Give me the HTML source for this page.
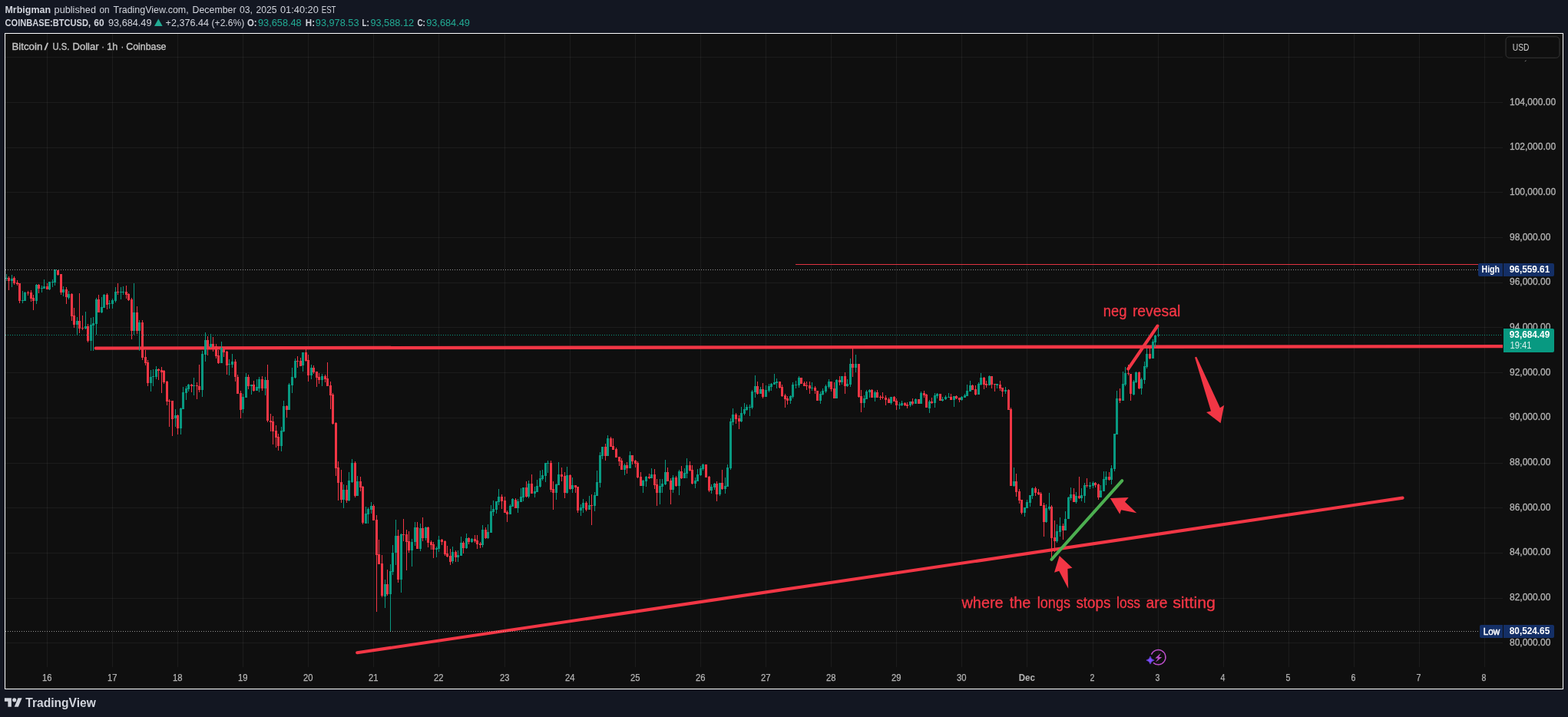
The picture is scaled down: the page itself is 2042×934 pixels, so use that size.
<!DOCTYPE html>
<html lang="en"><head><meta charset="utf-8"><title>BTCUSD chart</title>
<style>html,body{margin:0;padding:0;background:#131722;overflow:hidden}svg{display:block}text{white-space:pre}</style>
</head><body>
<svg width="2042" height="934" viewBox="0 0 2042 934" font-family='"Liberation Sans", sans-serif'>
<rect width="2042" height="934" fill="#131722"/>
<rect x="6" y="43" width="2030" height="855" fill="#ffffff"/>
<rect x="7" y="44" width="2028" height="853" fill="#0f0f0f"/>
<g fill="#f2f2f2" fill-opacity="0.06" shape-rendering="crispEdges">
<rect x="61" y="44" width="1" height="825"/>
<rect x="146" y="44" width="1" height="825"/>
<rect x="231" y="44" width="1" height="825"/>
<rect x="316" y="44" width="1" height="825"/>
<rect x="401" y="44" width="1" height="825"/>
<rect x="486" y="44" width="1" height="825"/>
<rect x="571" y="44" width="1" height="825"/>
<rect x="657" y="44" width="1" height="825"/>
<rect x="742" y="44" width="1" height="825"/>
<rect x="827" y="44" width="1" height="825"/>
<rect x="912" y="44" width="1" height="825"/>
<rect x="997" y="44" width="1" height="825"/>
<rect x="1082" y="44" width="1" height="825"/>
<rect x="1167" y="44" width="1" height="825"/>
<rect x="1252" y="44" width="1" height="825"/>
<rect x="1337" y="44" width="1" height="825"/>
<rect x="1423" y="44" width="1" height="825"/>
<rect x="1508" y="44" width="1" height="825"/>
<rect x="1593" y="44" width="1" height="825"/>
<rect x="1678" y="44" width="1" height="825"/>
<rect x="1763" y="44" width="1" height="825"/>
<rect x="1848" y="44" width="1" height="825"/>
<rect x="1933" y="44" width="1" height="825"/>
<rect x="7" y="74" width="1950" height="1"/>
<rect x="7" y="133" width="1950" height="1"/>
<rect x="7" y="192" width="1950" height="1"/>
<rect x="7" y="250" width="1950" height="1"/>
<rect x="7" y="309" width="1950" height="1"/>
<rect x="7" y="368" width="1950" height="1"/>
<rect x="7" y="426" width="1950" height="1"/>
<rect x="7" y="485" width="1950" height="1"/>
<rect x="7" y="544" width="1950" height="1"/>
<rect x="7" y="603" width="1950" height="1"/>
<rect x="7" y="661" width="1950" height="1"/>
<rect x="7" y="720" width="1950" height="1"/>
<rect x="7" y="779" width="1950" height="1"/>
<rect x="7" y="837" width="1950" height="1"/>
</g>
<line x1="124.8" y1="453.6" x2="1957" y2="451.1" stroke="#f23645" stroke-width="4.4" stroke-linecap="round"/>
<line x1="465.2" y1="850.3" x2="1826.6" y2="648.6" stroke="#f23645" stroke-width="4.1" stroke-linecap="round"/>
<!--CANDLES-->
<g id="candles" shape-rendering="crispEdges">
<path fill="#f23645" d="M11 360h1v18h-1zM10 362h3v4h-3zM18 360h1v11h-1zM17 362h3v7h-3zM22 365h1v7h-1zM21 368h3v2h-3zM25 369h1v26h-1zM24 369h3v23h-3zM36 379h1v6h-1zM35 381h3v1h-3zM40 378h1v15h-1zM39 381h3v8h-3zM43 384h1v20h-1zM42 388h3v4h-3zM50 370h1v12h-1zM49 371h3v5h-3zM61 369h1v8h-1zM60 373h3v4h-3zM75 352h1v7h-1zM74 352h3v6h-3zM79 357h1v27h-1zM78 357h3v24h-3zM86 374h1v22h-1zM85 377h3v10h-3zM93 382h1v36h-1zM92 383h3v29h-3zM96 401h1v26h-1zM95 411h3v12h-3zM103 382h1v52h-1zM102 418h3v10h-3zM107 411h1v19h-1zM106 427h3v1h-3zM114 422h1v24h-1zM113 425h3v19h-3zM128 384h1v23h-1zM127 390h3v17h-3zM139 382h1v21h-1zM138 384h3v13h-3zM153 369h1v15h-1zM152 380h3v1h-3zM164 372h1v17h-1zM163 380h3v4h-3zM167 382h1v10h-1zM166 383h3v8h-3zM171 388h1v54h-1zM170 390h3v41h-3zM178 399h1v36h-1zM177 407h3v24h-3zM185 417h1v52h-1zM184 420h3v46h-3zM189 456h1v20h-1zM188 465h3v8h-3zM192 469h1v34h-1zM191 472h3v27h-3zM206 480h1v15h-1zM205 481h3v2h-3zM210 478h1v34h-1zM209 482h3v3h-3zM213 482h1v18h-1zM212 483h3v15h-3zM217 496h1v32h-1zM216 497h3v26h-3zM220 520h1v36h-1zM219 522h3v1h-3zM224 522h1v46h-1zM223 522h3v24h-3zM231 540h1v26h-1zM230 541h3v17h-3zM249 500h1v11h-1zM248 501h3v2h-3zM256 498h1v22h-1zM255 502h3v1h-3zM259 475h1v36h-1zM258 503h3v5h-3zM270 438h1v25h-1zM269 443h3v9h-3zM277 439h1v19h-1zM276 448h3v4h-3zM281 448h1v19h-1zM280 451h3v13h-3zM284 456h1v18h-1zM283 463h3v10h-3zM291 453h1v12h-1zM290 453h3v6h-3zM295 457h1v31h-1zM294 458h3v18h-3zM306 468h1v29h-1zM305 471h3v20h-3zM309 488h1v25h-1zM308 491h3v22h-3zM313 509h1v36h-1zM312 512h3v22h-3zM323 488h1v19h-1zM322 491h3v12h-3zM330 496h1v14h-1zM329 501h3v8h-3zM341 490h1v19h-1zM340 494h3v12h-3zM348 475h1v75h-1zM347 495h3v53h-3zM352 539h1v23h-1zM351 548h3v2h-3zM355 542h1v37h-1zM354 549h3v13h-3zM359 554h1v29h-1zM358 561h3v9h-3zM362 565h1v22h-1zM361 569h3v12h-3zM373 528h1v16h-1zM372 529h3v5h-3zM387 464h1v15h-1zM386 470h3v1h-3zM391 466h1v11h-1zM390 470h3v7h-3zM398 455h1v16h-1zM397 459h3v11h-3zM401 462h1v35h-1zM400 469h3v20h-3zM408 476h1v11h-1zM407 479h3v6h-3zM412 484h1v20h-1zM411 484h3v8h-3zM415 486h1v14h-1zM414 491h3v4h-3zM423 488h1v10h-1zM422 490h3v4h-3zM426 472h1v31h-1zM425 493h3v10h-3zM430 497h1v36h-1zM429 502h3v13h-3zM433 512h1v41h-1zM432 514h3v38h-3zM437 550h1v70h-1zM436 551h3v59h-3zM440 601h1v51h-1zM439 609h3v20h-3zM444 612h1v43h-1zM443 628h3v23h-3zM451 632h1v23h-1zM450 638h3v14h-3zM462 601h1v47h-1zM461 603h3v43h-3zM469 621h1v19h-1zM468 627h3v8h-3zM472 633h1v50h-1zM471 634h3v47h-3zM486 657h1v21h-1zM485 659h3v19h-3zM490 671h1v126h-1zM489 677h3v46h-3zM493 703h1v32h-1zM492 722h3v13h-3zM497 723h1v55h-1zM496 734h3v42h-3zM504 742h1v34h-1zM503 761h3v13h-3zM518 690h1v69h-1zM517 698h3v57h-3zM525 676h1v29h-1zM524 696h3v1h-3zM529 690h1v53h-1zM528 696h3v10h-3zM532 692h1v28h-1zM531 705h3v12h-3zM543 680h1v35h-1zM542 687h3v28h-3zM550 674h1v31h-1zM549 688h3v13h-3zM557 686h1v27h-1zM556 687h3v20h-3zM561 704h1v12h-1zM560 706h3v4h-3zM564 706h1v21h-1zM563 709h3v7h-3zM575 702h1v8h-1zM574 703h3v3h-3zM579 704h1v20h-1zM578 705h3v17h-3zM582 711h1v15h-1zM581 721h3v4h-3zM586 715h1v21h-1zM585 724h3v8h-3zM593 717h1v15h-1zM592 719h3v7h-3zM603 705h1v16h-1zM602 707h3v7h-3zM610 700h1v9h-1zM609 701h3v5h-3zM618 697h1v10h-1zM617 702h3v3h-3zM621 697h1v18h-1zM620 704h3v5h-3zM625 706h1v8h-1zM624 708h3v2h-3zM632 687h1v15h-1zM631 690h3v11h-3zM653 644h1v19h-1zM652 647h3v6h-3zM657 647h1v21h-1zM656 652h3v16h-3zM660 665h1v15h-1zM659 667h3v3h-3zM671 649h1v13h-1zM670 651h3v11h-3zM685 627h1v21h-1zM684 635h3v12h-3zM692 618h1v25h-1zM691 630h3v13h-3zM717 600h1v41h-1zM716 603h3v35h-3zM720 627h1v37h-1zM719 637h3v5h-3zM731 609h1v18h-1zM730 618h3v3h-3zM735 615h1v34h-1zM734 620h3v22h-3zM742 618h1v20h-1zM741 619h3v18h-3zM749 632h1v10h-1zM748 632h3v3h-3zM752 634h1v34h-1zM751 634h3v31h-3zM763 653h1v13h-1zM762 655h3v9h-3zM770 644h1v40h-1zM769 658h3v1h-3zM788 578h1v22h-1zM787 582h3v12h-3zM795 569h1v13h-1zM794 571h3v11h-3zM798 571h1v15h-1zM797 581h3v5h-3zM802 583h1v13h-1zM801 585h3v11h-3zM806 595h1v12h-1zM805 595h3v6h-3zM809 597h1v15h-1zM808 600h3v12h-3zM816 602h1v15h-1zM815 606h3v4h-3zM823 593h1v12h-1zM822 593h3v8h-3zM827 599h1v10h-1zM826 600h3v4h-3zM830 601h1v22h-1zM829 603h3v19h-3zM834 615h1v18h-1zM833 621h3v12h-3zM845 617h1v7h-1zM844 621h3v2h-3zM852 611h1v26h-1zM851 618h3v14h-3zM855 624h1v35h-1zM854 631h3v11h-3zM869 609h1v18h-1zM868 615h3v12h-3zM873 623h1v34h-1zM872 626h3v12h-3zM880 620h1v14h-1zM879 622h3v11h-3zM887 607h1v17h-1zM886 614h3v9h-3zM898 601h1v13h-1zM897 606h3v7h-3zM901 606h1v25h-1zM900 612h3v18h-3zM918 605h3v17h-3zM923 620h1v21h-1zM922 621h3v18h-3zM933 627h1v26h-1zM932 630h3v14h-3zM940 612h1v26h-1zM939 629h3v8h-3zM958 538h1v14h-1zM957 540h3v6h-3zM962 541h1v18h-1zM961 545h3v4h-3zM986 497h1v17h-1zM985 503h3v10h-3zM993 499h1v20h-1zM992 507h3v10h-3zM1015 497h1v9h-1zM1014 497h3v8h-3zM1018 501h1v16h-1zM1017 504h3v12h-3zM1022 513h1v18h-1zM1021 515h3v5h-3zM1025 516h1v11h-1zM1024 519h3v3h-3zM1042 492h3v8h-3zM1047 497h1v6h-1zM1046 499h3v4h-3zM1050 497h1v11h-1zM1049 502h3v1h-3zM1054 497h1v16h-1zM1053 502h3v4h-3zM1061 503h1v10h-1zM1060 505h3v4h-3zM1063 509h3v13h-3zM1082 497h1v13h-1zM1081 497h3v10h-3zM1086 498h1v21h-1zM1085 506h3v13h-3zM1093 490h1v12h-1zM1092 495h3v3h-3zM1100 485h1v28h-1zM1099 490h3v13h-3zM1110 454h1v37h-1zM1109 474h3v5h-3zM1118 474h1v44h-1zM1117 474h3v43h-3zM1121 508h1v29h-1zM1120 516h3v9h-3zM1135 507h1v11h-1zM1134 508h3v10h-3zM1142 508h1v10h-1zM1141 511h3v7h-3zM1146 515h1v6h-1zM1145 517h3v1h-3zM1149 511h1v9h-1zM1148 517h3v1h-3zM1153 515h1v13h-1zM1152 518h3v3h-3zM1157 518h1v7h-1zM1156 520h3v5h-3zM1164 516h1v7h-1zM1163 517h3v6h-3zM1167 519h1v15h-1zM1166 522h3v6h-3zM1178 524h1v5h-1zM1177 525h3v3h-3zM1181 524h1v8h-1zM1180 527h3v2h-3zM1188 519h1v9h-1zM1187 523h3v3h-3zM1195 520h3v6h-3zM1203 509h1v9h-1zM1202 512h3v3h-3zM1206 513h1v18h-1zM1205 514h3v17h-3zM1213 518h1v8h-1zM1212 523h3v2h-3zM1223 513h3v9h-3zM1238 513h1v8h-1zM1237 517h3v4h-3zM1245 515h1v5h-1zM1244 516h3v3h-3zM1249 518h1v6h-1zM1248 518h3v3h-3zM1266 501h1v7h-1zM1265 502h3v6h-3zM1270 502h1v13h-1zM1269 507h3v7h-3zM1281 491h1v16h-1zM1280 492h3v9h-3zM1284 496h1v9h-1zM1283 500h3v2h-3zM1291 490h1v16h-1zM1290 490h3v11h-3zM1295 500h1v10h-1zM1294 500h3v1h-3zM1302 496h1v13h-1zM1301 501h3v5h-3zM1305 505h1v12h-1zM1304 505h3v5h-3zM1313 507h1v27h-1zM1312 508h3v26h-3zM1316 531h1v102h-1zM1315 533h3v100h-3zM1323 617h1v30h-1zM1322 627h3v14h-3zM1327 637h1v19h-1zM1326 640h3v12h-3zM1330 651h1v19h-1zM1329 651h3v17h-3zM1348 634h1v12h-1zM1347 636h3v6h-3zM1352 637h1v8h-1zM1351 641h3v3h-3zM1355 641h1v18h-1zM1354 643h3v16h-3zM1359 655h1v44h-1zM1358 658h3v22h-3zM1369 658h1v68h-1zM1368 660h3v41h-3zM1373 678h1v41h-1zM1372 700h3v5h-3zM1384 682h1v21h-1zM1383 685h3v6h-3zM1398 636h1v18h-1zM1397 644h3v10h-3zM1405 621h1v29h-1zM1404 646h3v3h-3zM1415 623h1v12h-1zM1414 632h3v1h-3zM1426 628h1v7h-1zM1425 629h3v3h-3zM1430 630h1v21h-1zM1429 631h3v17h-3zM1444 615h1v11h-1zM1443 621h3v4h-3zM1458 506h1v19h-1zM1457 519h3v3h-3zM1469 475h1v14h-1zM1468 486h3v1h-3zM1472 487h1v35h-1zM1471 487h3v26h-3zM1483 484h1v23h-1zM1482 485h3v21h-3zM1497 453h1v15h-1zM1496 461h3v6h-3z"/>
<path fill="#089981" d="M8 357h1v9h-1zM7 362h3v1h-3zM15 358h1v16h-1zM14 363h3v3h-3zM29 379h1v16h-1zM28 391h3v1h-3zM32 380h1v12h-1zM31 381h3v11h-3zM47 370h1v26h-1zM46 371h3v21h-3zM54 372h1v9h-1zM53 375h3v1h-3zM57 364h1v12h-1zM56 373h3v3h-3zM64 367h1v11h-1zM63 367h3v10h-3zM68 364h1v10h-1zM67 367h3v1h-3zM71 351h1v21h-1zM70 351h3v17h-3zM82 373h1v13h-1zM81 377h3v4h-3zM89 379h1v11h-1zM88 383h3v5h-3zM100 413h1v24h-1zM99 418h3v5h-3zM111 406h1v23h-1zM110 425h3v3h-3zM118 414h1v43h-1zM117 423h3v21h-3zM121 413h1v44h-1zM120 421h3v3h-3zM125 388h1v48h-1zM124 390h3v32h-3zM132 387h1v21h-1zM131 400h3v7h-3zM135 383h1v18h-1zM134 384h3v17h-3zM142 391h1v11h-1zM141 395h3v1h-3zM146 389h1v13h-1zM145 391h3v5h-3zM150 374h1v20h-1zM149 380h3v12h-3zM157 374h1v16h-1zM156 380h3v1h-3zM160 373h1v11h-1zM159 380h3v1h-3zM174 369h1v67h-1zM173 407h3v24h-3zM181 417h1v40h-1zM180 420h3v11h-3zM196 482h1v28h-1zM195 491h3v8h-3zM199 481h1v22h-1zM198 490h3v1h-3zM203 477h1v17h-1zM202 481h3v10h-3zM228 533h1v23h-1zM227 541h3v4h-3zM235 531h1v35h-1zM234 532h3v26h-3zM238 504h1v29h-1zM237 511h3v22h-3zM242 503h1v18h-1zM241 506h3v6h-3zM245 500h1v10h-1zM244 501h3v6h-3zM252 492h1v23h-1zM251 502h3v1h-3zM263 457h1v60h-1zM262 461h3v47h-3zM267 433h1v38h-1zM266 443h3v19h-3zM274 435h1v18h-1zM273 448h3v4h-3zM288 445h1v28h-1zM287 453h3v20h-3zM298 468h1v21h-1zM297 474h3v1h-3zM302 461h1v18h-1zM301 471h3v4h-3zM316 513h1v25h-1zM315 517h3v16h-3zM320 486h1v32h-1zM319 491h3v27h-3zM327 501h1v13h-1zM326 501h3v2h-3zM334 494h1v15h-1zM333 504h3v5h-3zM337 491h1v20h-1zM336 494h3v12h-3zM345 491h1v24h-1zM344 495h3v11h-3zM366 556h1v32h-1zM365 561h3v20h-3zM369 522h1v41h-1zM368 529h3v33h-3zM376 499h1v35h-1zM375 501h3v33h-3zM380 479h1v33h-1zM379 491h3v11h-3zM384 467h1v26h-1zM383 470h3v22h-3zM394 459h1v25h-1zM393 459h3v17h-3zM405 475h1v19h-1zM404 479h3v10h-3zM419 487h1v16h-1zM418 490h3v5h-3zM447 631h1v31h-1zM446 638h3v13h-3zM454 615h1v38h-1zM453 626h3v26h-3zM458 598h1v31h-1zM457 603h3v25h-3zM465 620h1v26h-1zM464 627h3v19h-3zM476 660h1v22h-1zM475 669h3v13h-3zM479 661h1v21h-1zM478 663h3v7h-3zM483 654h1v15h-1zM482 659h3v5h-3zM501 755h1v37h-1zM500 761h3v16h-3zM508 735h1v88h-1zM507 744h3v30h-3zM511 710h1v39h-1zM510 720h3v25h-3zM515 677h1v59h-1zM514 698h3v22h-3zM522 695h1v77h-1zM521 696h3v59h-3zM536 702h1v36h-1zM535 706h3v11h-3zM540 680h1v31h-1zM539 687h3v19h-3zM547 682h1v36h-1zM546 688h3v27h-3zM554 686h1v18h-1zM553 687h3v14h-3zM568 712h1v14h-1zM567 714h3v2h-3zM571 698h1v21h-1zM570 703h3v12h-3zM589 712h1v22h-1zM588 719h3v12h-3zM596 717h1v15h-1zM595 723h3v3h-3zM600 699h1v25h-1zM599 707h3v17h-3zM607 695h1v20h-1zM606 701h3v13h-3zM614 701h1v6h-1zM613 702h3v4h-3zM628 684h1v29h-1zM627 690h3v20h-3zM635 683h1v19h-1zM634 693h3v8h-3zM639 658h1v36h-1zM638 666h3v28h-3zM642 652h1v20h-1zM641 663h3v4h-3zM646 653h1v16h-1zM645 653h3v11h-3zM649 637h1v21h-1zM648 647h3v7h-3zM664 657h1v13h-1zM663 659h3v11h-3zM667 649h1v11h-1zM666 650h3v10h-3zM674 650h1v18h-1zM673 653h3v9h-3zM678 636h1v18h-1zM677 647h3v7h-3zM681 635h1v18h-1zM680 635h3v13h-3zM688 626h1v23h-1zM687 630h3v17h-3zM696 634h1v14h-1zM695 640h3v3h-3zM699 625h1v16h-1zM698 633h3v8h-3zM703 613h1v22h-1zM702 623h3v11h-3zM706 612h1v14h-1zM705 619h3v5h-3zM710 603h1v25h-1zM709 603h3v17h-3zM713 600h1v16h-1zM712 603h3v1h-3zM724 630h1v21h-1zM723 631h3v11h-3zM727 602h1v30h-1zM726 618h3v14h-3zM738 608h1v35h-1zM737 619h3v23h-3zM745 622h1v20h-1zM744 632h3v5h-3zM756 657h1v15h-1zM755 661h3v4h-3zM759 650h1v18h-1zM758 655h3v7h-3zM767 646h1v18h-1zM766 658h3v6h-3zM774 641h1v25h-1zM773 645h3v14h-3zM777 613h1v33h-1zM776 628h3v18h-3zM781 589h1v46h-1zM780 593h3v36h-3zM784 582h1v16h-1zM783 582h3v12h-3zM791 567h1v27h-1zM790 571h3v23h-3zM813 604h1v15h-1zM812 606h3v6h-3zM820 588h1v22h-1zM819 593h3v17h-3zM837 625h1v17h-1zM836 626h3v7h-3zM841 620h1v14h-1zM840 621h3v6h-3zM848 610h1v13h-1zM847 618h3v5h-3zM859 624h1v33h-1zM858 633h3v9h-3zM862 624h1v18h-1zM861 630h3v4h-3zM866 599h1v33h-1zM865 615h3v16h-3zM876 619h1v23h-1zM875 622h3v16h-3zM884 612h1v33h-1zM883 614h3v19h-3zM891 610h1v13h-1zM890 616h3v7h-3zM894 597h1v26h-1zM893 606h3v11h-3zM905 622h1v14h-1zM904 626h3v4h-3zM908 611h1v16h-1zM907 618h3v9h-3zM912 607h1v13h-1zM911 610h3v9h-3zM915 604h1v9h-1zM914 605h3v6h-3zM926 631h1v12h-1zM925 634h3v5h-3zM930 629h1v9h-1zM929 630h3v5h-3zM937 629h1v17h-1zM936 629h3v15h-3zM944 622h1v21h-1zM943 633h3v4h-3zM947 605h1v29h-1zM946 609h3v25h-3zM951 545h1v67h-1zM950 549h3v61h-3zM954 532h1v22h-1zM953 540h3v10h-3zM965 530h1v20h-1zM964 538h3v11h-3zM969 525h1v16h-1zM968 533h3v6h-3zM972 527h1v8h-1zM971 530h3v4h-3zM976 527h1v15h-1zM975 530h3v1h-3zM979 508h1v25h-1zM978 510h3v21h-3zM983 489h1v29h-1zM982 503h3v8h-3zM990 504h1v9h-1zM989 507h3v6h-3zM997 502h1v15h-1zM996 508h3v9h-3zM1001 500h1v11h-1zM1000 503h3v6h-3zM1004 499h1v10h-1zM1003 500h3v4h-3zM1008 487h1v14h-1zM1007 498h3v3h-3zM1011 493h1v13h-1zM1010 497h3v2h-3zM1029 515h1v11h-1zM1028 516h3v6h-3zM1032 498h1v21h-1zM1031 501h3v16h-3zM1036 496h1v10h-1zM1035 501h3v1h-3zM1040 490h1v15h-1zM1039 492h3v10h-3zM1057 498h1v11h-1zM1056 505h3v1h-3zM1068 510h1v16h-1zM1067 513h3v9h-3zM1071 506h1v9h-1zM1070 509h3v5h-3zM1075 501h1v11h-1zM1074 503h3v7h-3zM1079 494h1v12h-1zM1078 497h3v7h-3zM1089 494h1v25h-1zM1088 495h3v24h-3zM1096 490h1v11h-1zM1095 490h3v8h-3zM1103 494h1v10h-1zM1102 500h3v3h-3zM1107 467h1v37h-1zM1106 474h3v27h-3zM1114 462h1v23h-1zM1113 474h3v5h-3zM1125 515h1v16h-1zM1124 519h3v6h-3zM1128 508h1v12h-1zM1127 510h3v10h-3zM1132 507h1v11h-1zM1131 508h3v3h-3zM1139 509h1v14h-1zM1138 511h3v7h-3zM1160 517h1v10h-1zM1159 517h3v8h-3zM1171 524h1v9h-1zM1170 527h3v1h-3zM1174 522h1v7h-1zM1173 525h3v3h-3zM1185 523h1v7h-1zM1184 523h3v5h-3zM1192 519h1v7h-1zM1191 520h3v6h-3zM1199 510h1v16h-1zM1198 512h3v14h-3zM1210 521h1v17h-1zM1209 523h3v9h-3zM1217 512h1v19h-1zM1216 515h3v10h-3zM1220 512h1v7h-1zM1219 513h3v3h-3zM1227 517h1v6h-1zM1226 520h3v2h-3zM1231 515h1v6h-1zM1230 517h3v3h-3zM1235 512h1v6h-1zM1234 517h3v1h-3zM1242 516h1v14h-1zM1241 516h3v5h-3zM1252 516h1v6h-1zM1251 517h3v4h-3zM1256 513h1v5h-1zM1255 515h3v3h-3zM1259 501h1v15h-1zM1258 509h3v7h-3zM1263 496h1v14h-1zM1262 502h3v8h-3zM1274 498h1v16h-1zM1273 500h3v14h-3zM1277 486h1v16h-1zM1276 492h3v9h-3zM1288 489h1v13h-1zM1287 490h3v12h-3zM1298 500h1v6h-1zM1297 500h3v2h-3zM1309 504h1v9h-1zM1308 508h3v2h-3zM1320 609h1v25h-1zM1319 627h3v6h-3zM1334 661h1v12h-1zM1333 661h3v7h-3zM1337 651h1v11h-1zM1336 654h3v8h-3zM1341 645h1v15h-1zM1340 645h3v10h-3zM1344 635h1v15h-1zM1343 636h3v10h-3zM1362 657h1v24h-1zM1361 662h3v18h-3zM1366 642h1v23h-1zM1365 660h3v3h-3zM1376 683h1v24h-1zM1375 692h3v13h-3zM1380 674h1v25h-1zM1379 685h3v8h-3zM1387 666h1v25h-1zM1386 676h3v15h-3zM1391 647h1v29h-1zM1390 648h3v28h-3zM1394 635h1v17h-1zM1393 644h3v5h-3zM1401 641h1v15h-1zM1400 646h3v8h-3zM1408 636h1v17h-1zM1407 645h3v4h-3zM1412 629h1v26h-1zM1411 632h3v14h-3zM1419 628h1v9h-1zM1418 632h3v2h-3zM1423 627h1v9h-1zM1422 629h3v4h-3zM1433 632h1v16h-1zM1432 639h3v9h-3zM1437 614h1v26h-1zM1436 624h3v16h-3zM1440 614h1v18h-1zM1439 621h3v4h-3zM1447 606h1v25h-1zM1446 610h3v15h-3zM1451 565h1v49h-1zM1450 565h3v46h-3zM1454 509h1v57h-1zM1453 519h3v47h-3zM1462 484h1v38h-1zM1461 500h3v22h-3zM1465 478h1v25h-1zM1464 486h3v15h-3zM1476 495h1v20h-1zM1475 497h3v17h-3zM1479 484h1v15h-1zM1478 485h3v13h-3zM1486 492h1v22h-1zM1485 494h3v12h-3zM1490 471h1v29h-1zM1489 477h3v18h-3zM1493 454h1v26h-1zM1492 461h3v17h-3zM1501 442h1v25h-1zM1500 445h3v22h-3zM1504 436h1v16h-1zM1503 437h3v9h-3zM1508 427h1v12h-1zM1507 436h3v1h-3z"/>
</g>
<line x1="7" y1="351.5" x2="1925" y2="351.5" stroke="#c8c8c8" stroke-width="1" stroke-dasharray="1 2" opacity="0.72" shape-rendering="crispEdges"/>
<line x1="7" y1="822.5" x2="1927" y2="822.5" stroke="#c8c8c8" stroke-width="1" stroke-dasharray="1 2" opacity="0.72" shape-rendering="crispEdges"/>
<line x1="7" y1="436.5" x2="1957" y2="436.5" stroke="#089981" stroke-width="1" stroke-dasharray="1 2" opacity="1" shape-rendering="crispEdges"/>
<g id="drawings">
<line x1="1036" y1="344.5" x2="1925" y2="344.5" stroke="#f23645" stroke-width="1" opacity="0.92"/>
<line x1="1369.4" y1="728.8" x2="1461.3" y2="626.2" stroke="#4caf50" stroke-width="4" stroke-linecap="round"/>
<line x1="1469.2" y1="480.6" x2="1507.4" y2="424.6" stroke="#f23645" stroke-width="4.2" stroke-linecap="round"/>
<polygon points="1556,465.6 1558.2,464.8 1588.9,531.3 1594.2,527.8 1589.6,551.2 1571,537 1577,535.6" fill="#f23645"/>
<polygon points="1379.7,724 1396.5,739.8 1390.4,741 1391.2,766.8 1379.2,743.8 1373,745.7" fill="#f23645"/>
<polygon points="1445.8,649 1469.7,648.1 1465,653.7 1480.3,668.3 1460.1,664.3 1458.3,669.8" fill="#f23645"/>
<text y="412.2" font-size="20" fill="#f23645" stroke="#f23645" stroke-width="0.35"><tspan x="1436.8" textLength="30.5" lengthAdjust="spacingAndGlyphs">neg</tspan> <tspan x="1474.9" textLength="62.3" lengthAdjust="spacingAndGlyphs">revesal</tspan></text>
<text y="792" font-size="20" fill="#f23645" stroke="#f23645" stroke-width="0.35"><tspan x="1252.5" textLength="54.2" lengthAdjust="spacingAndGlyphs">where</tspan> <tspan x="1314.7" textLength="27.7" lengthAdjust="spacingAndGlyphs">the</tspan> <tspan x="1350.8" textLength="43.2" lengthAdjust="spacingAndGlyphs">longs</tspan> <tspan x="1401.4" textLength="45.0" lengthAdjust="spacingAndGlyphs">stops</tspan> <tspan x="1454.1" textLength="31.0" lengthAdjust="spacingAndGlyphs">loss</tspan> <tspan x="1492.5" textLength="27.9" lengthAdjust="spacingAndGlyphs">are</tspan> <tspan x="1527.2" textLength="55.8" lengthAdjust="spacingAndGlyphs">sitting</tspan></text>
</g>
<rect x="1957" y="44" width="78" height="853" fill="#0f0f0f"/>
<rect x="7" y="869" width="1950" height="28" fill="#0f0f0f"/>
<text x="1966" y="136.9" font-size="12" fill="#b4b4b4" stroke="#b4b4b4" stroke-width="0.3">104,000.00</text>
<text x="1966" y="194.9" font-size="12" fill="#b4b4b4" stroke="#b4b4b4" stroke-width="0.3">102,000.00</text>
<text x="1966" y="253.9" font-size="12" fill="#b4b4b4" stroke="#b4b4b4" stroke-width="0.3">100,000.00</text>
<text x="1966" y="312.9" font-size="12" fill="#b4b4b4" stroke="#b4b4b4" stroke-width="0.3">98,000.00</text>
<text x="1966" y="370.9" font-size="12" fill="#b4b4b4" stroke="#b4b4b4" stroke-width="0.3">96,000.00</text>
<text x="1966" y="429.9" font-size="12" fill="#b4b4b4" stroke="#b4b4b4" stroke-width="0.3">94,000.00</text>
<text x="1966" y="488.9" font-size="12" fill="#b4b4b4" stroke="#b4b4b4" stroke-width="0.3">92,000.00</text>
<text x="1966" y="546.9" font-size="12" fill="#b4b4b4" stroke="#b4b4b4" stroke-width="0.3">90,000.00</text>
<text x="1966" y="605.9" font-size="12" fill="#b4b4b4" stroke="#b4b4b4" stroke-width="0.3">88,000.00</text>
<text x="1966" y="664.9" font-size="12" fill="#b4b4b4" stroke="#b4b4b4" stroke-width="0.3">86,000.00</text>
<text x="1966" y="722.9" font-size="12" fill="#b4b4b4" stroke="#b4b4b4" stroke-width="0.3">84,000.00</text>
<text x="1966" y="781.9" font-size="12" fill="#b4b4b4" stroke="#b4b4b4" stroke-width="0.3">82,000.00</text>
<text x="1966" y="840.9" font-size="12" fill="#b4b4b4" stroke="#b4b4b4" stroke-width="0.3">80,000.00</text>
<path d="M1985.8 79.9 L1987.6 78.8" stroke="#8a8a8a" stroke-width="0.9" fill="none"/>
<rect x="1925" y="343" width="32" height="17" rx="2" fill="#142f66"/>
<rect x="1955" y="343" width="2" height="17" fill="#142f66"/>
<rect x="1958" y="343" width="66" height="17" rx="2" fill="#142f66"/>
<rect x="1958" y="343" width="2" height="17" fill="#142f66"/>
<text x="1929.6" y="355.2" font-size="12" fill="#ffffff" font-weight="bold" textLength="23.4" lengthAdjust="spacingAndGlyphs">High</text>
<text x="1965.8" y="355.2" font-size="12" fill="#ffffff" font-weight="bold" textLength="52.4" lengthAdjust="spacingAndGlyphs">96,559.61</text>
<rect x="1927" y="814" width="30" height="17" rx="2" fill="#142f66"/>
<rect x="1955" y="814" width="2" height="17" fill="#142f66"/>
<rect x="1958" y="814" width="66" height="17" rx="2" fill="#142f66"/>
<rect x="1958" y="814" width="2" height="17" fill="#142f66"/>
<text x="1931.7" y="826.6" font-size="12" fill="#ffffff" textLength="21.5" lengthAdjust="spacingAndGlyphs" stroke="#ffffff" stroke-width="0.45">Low</text>
<text x="1965.8" y="826.2" font-size="12" fill="#ffffff" font-weight="bold" textLength="52.4" lengthAdjust="spacingAndGlyphs">80,524.65</text>
<rect x="1958" y="428" width="66" height="31" rx="2" fill="#089981"/>
<rect x="1958" y="428" width="2" height="31" fill="#089981"/>
<text x="1965.8" y="440" font-size="12" fill="#ffffff" font-weight="bold" textLength="52.4" lengthAdjust="spacingAndGlyphs">93,684.49</text>
<text x="1966.4" y="454" font-size="12" fill="#ffffff" textLength="28.2" lengthAdjust="spacingAndGlyphs" fill-opacity="0.85">19:41</text>
<rect x="1961" y="47.8" width="70" height="27.5" rx="4.5" fill="#0f0f0f" stroke="#363636" stroke-width="1"/>
<text x="1969.8" y="66.1" font-size="12" fill="#cfcfcf" textLength="21.6" lengthAdjust="spacingAndGlyphs">USD</text>
<text x="61.3" y="887" font-size="12" fill="#b4b4b4" textLength="12.5" lengthAdjust="spacingAndGlyphs" text-anchor="middle" stroke="#b4b4b4" stroke-width="0.25">16</text>
<text x="146.3" y="887" font-size="12" fill="#b4b4b4" textLength="12.5" lengthAdjust="spacingAndGlyphs" text-anchor="middle" stroke="#b4b4b4" stroke-width="0.25">17</text>
<text x="231.3" y="887" font-size="12" fill="#b4b4b4" textLength="12.5" lengthAdjust="spacingAndGlyphs" text-anchor="middle" stroke="#b4b4b4" stroke-width="0.25">18</text>
<text x="316.3" y="887" font-size="12" fill="#b4b4b4" textLength="12.5" lengthAdjust="spacingAndGlyphs" text-anchor="middle" stroke="#b4b4b4" stroke-width="0.25">19</text>
<text x="401.3" y="887" font-size="12" fill="#b4b4b4" textLength="12.5" lengthAdjust="spacingAndGlyphs" text-anchor="middle" stroke="#b4b4b4" stroke-width="0.25">20</text>
<text x="486.3" y="887" font-size="12" fill="#b4b4b4" textLength="12.5" lengthAdjust="spacingAndGlyphs" text-anchor="middle" stroke="#b4b4b4" stroke-width="0.25">21</text>
<text x="571.3" y="887" font-size="12" fill="#b4b4b4" textLength="12.5" lengthAdjust="spacingAndGlyphs" text-anchor="middle" stroke="#b4b4b4" stroke-width="0.25">22</text>
<text x="657.3" y="887" font-size="12" fill="#b4b4b4" textLength="12.5" lengthAdjust="spacingAndGlyphs" text-anchor="middle" stroke="#b4b4b4" stroke-width="0.25">23</text>
<text x="742.3" y="887" font-size="12" fill="#b4b4b4" textLength="12.5" lengthAdjust="spacingAndGlyphs" text-anchor="middle" stroke="#b4b4b4" stroke-width="0.25">24</text>
<text x="827.3" y="887" font-size="12" fill="#b4b4b4" textLength="12.5" lengthAdjust="spacingAndGlyphs" text-anchor="middle" stroke="#b4b4b4" stroke-width="0.25">25</text>
<text x="912.3" y="887" font-size="12" fill="#b4b4b4" textLength="12.5" lengthAdjust="spacingAndGlyphs" text-anchor="middle" stroke="#b4b4b4" stroke-width="0.25">26</text>
<text x="997.3" y="887" font-size="12" fill="#b4b4b4" textLength="12.5" lengthAdjust="spacingAndGlyphs" text-anchor="middle" stroke="#b4b4b4" stroke-width="0.25">27</text>
<text x="1082.3" y="887" font-size="12" fill="#b4b4b4" textLength="12.5" lengthAdjust="spacingAndGlyphs" text-anchor="middle" stroke="#b4b4b4" stroke-width="0.25">28</text>
<text x="1167.3" y="887" font-size="12" fill="#b4b4b4" textLength="12.5" lengthAdjust="spacingAndGlyphs" text-anchor="middle" stroke="#b4b4b4" stroke-width="0.25">29</text>
<text x="1252.3" y="887" font-size="12" fill="#b4b4b4" textLength="12.5" lengthAdjust="spacingAndGlyphs" text-anchor="middle" stroke="#b4b4b4" stroke-width="0.25">30</text>
<text x="1337.3" y="887" font-size="12" fill="#b4b4b4" font-weight="bold" textLength="21.2" lengthAdjust="spacingAndGlyphs" text-anchor="middle">Dec</text>
<text x="1422.5" y="887" font-size="12" fill="#b4b4b4" textLength="5.9" lengthAdjust="spacingAndGlyphs" text-anchor="middle" stroke="#b4b4b4" stroke-width="0.25">2</text>
<text x="1507.5" y="887" font-size="12" fill="#b4b4b4" textLength="5.9" lengthAdjust="spacingAndGlyphs" text-anchor="middle" stroke="#b4b4b4" stroke-width="0.25">3</text>
<text x="1592.5" y="887" font-size="12" fill="#b4b4b4" textLength="5.9" lengthAdjust="spacingAndGlyphs" text-anchor="middle" stroke="#b4b4b4" stroke-width="0.25">4</text>
<text x="1677.5" y="887" font-size="12" fill="#b4b4b4" textLength="5.9" lengthAdjust="spacingAndGlyphs" text-anchor="middle" stroke="#b4b4b4" stroke-width="0.25">5</text>
<text x="1762.5" y="887" font-size="12" fill="#b4b4b4" textLength="5.9" lengthAdjust="spacingAndGlyphs" text-anchor="middle" stroke="#b4b4b4" stroke-width="0.25">6</text>
<text x="1847.5" y="887" font-size="12" fill="#b4b4b4" textLength="5.9" lengthAdjust="spacingAndGlyphs" text-anchor="middle" stroke="#b4b4b4" stroke-width="0.25">7</text>
<text x="1932.5" y="887" font-size="12" fill="#b4b4b4" textLength="5.9" lengthAdjust="spacingAndGlyphs" text-anchor="middle" stroke="#b4b4b4" stroke-width="0.25">8</text>
<g id="bolt">
<path d="M1499.4,852.6 A9.6,9.6 0 1 1 1502.0,863.4" fill="none" stroke="#ba4dc8" stroke-width="1.5"/>
<path d="M1512.0,850.6 L1504.3,857.4 L1508.2,857.4 L1504.8,862.8 L1513.3,855.9 L1509.2,855.9 Z" fill="#ba4dc8"/>
<path d="M1498,854.9 Q1498.9,859.1 1503.1,860 Q1498.9,860.9 1498,865.1 Q1497.1,860.9 1492.9,860 Q1497.1,859.1 1498,854.9 Z" fill="#7c4dff" stroke="#7c4dff" stroke-width="0.6" stroke-linejoin="round"/>
</g>
<text y="64.9" font-size="13" fill="#c4c4c4" stroke="#c4c4c4" stroke-width="0.35"><tspan x="15.4" textLength="40.0" lengthAdjust="spacingAndGlyphs">Bitcoin</tspan> <tspan x="57.7" textLength="5.1" lengthAdjust="spacingAndGlyphs">/</tspan> <tspan x="68.4" textLength="21.9" lengthAdjust="spacingAndGlyphs">U.S.</tspan> <tspan x="94.6" textLength="34.0" lengthAdjust="spacingAndGlyphs">Dollar</tspan> <tspan x="132.4" textLength="3.2" lengthAdjust="spacingAndGlyphs">·</tspan> <tspan x="139.3" textLength="14.1" lengthAdjust="spacingAndGlyphs">1h</tspan> <tspan x="157.7" textLength="3.2" lengthAdjust="spacingAndGlyphs">·</tspan> <tspan x="164.3" textLength="52.2" lengthAdjust="spacingAndGlyphs">Coinbase</tspan></text>
<text y="17" font-size="13" fill="#d1d4dc"><tspan x="6.5" textLength="59.5" lengthAdjust="spacingAndGlyphs" font-weight="bold">Mrbigman</tspan> <tspan x="70.6" textLength="54.4" lengthAdjust="spacingAndGlyphs">published</tspan> <tspan x="129.4" textLength="13.1" lengthAdjust="spacingAndGlyphs">on</tspan> <tspan x="147.5" textLength="98.1" lengthAdjust="spacingAndGlyphs">TradingView.com,</tspan> <tspan x="250.6" textLength="56.9" lengthAdjust="spacingAndGlyphs">December</tspan> <tspan x="311.9" textLength="16.9" lengthAdjust="spacingAndGlyphs">03,</tspan> <tspan x="333.5" textLength="27.1" lengthAdjust="spacingAndGlyphs">2025</tspan> <tspan x="365" textLength="49.8" lengthAdjust="spacingAndGlyphs">01:40:20</tspan> <tspan x="418.8" textLength="18.7" lengthAdjust="spacingAndGlyphs">EST</tspan></text>
<polygon points="201,34 206.3,24.4 211.6,34" fill="#22ab94"/>
<text y="34" font-size="13" fill="#d1d4dc"><tspan x="6.5" textLength="111.5" lengthAdjust="spacingAndGlyphs" font-weight="bold">COINBASE:BTCUSD,</tspan> <tspan x="122.3" textLength="13.3" lengthAdjust="spacingAndGlyphs" font-weight="bold">60</tspan> <tspan x="141" textLength="56.5" lengthAdjust="spacingAndGlyphs">93,684.49</tspan> <tspan x="215.6" textLength="56.4" lengthAdjust="spacingAndGlyphs">+2,376.44</tspan> <tspan x="275.6" textLength="42.6" lengthAdjust="spacingAndGlyphs">(+2.6%)</tspan> <tspan x="322" textLength="12.6" lengthAdjust="spacingAndGlyphs" font-weight="bold">O:</tspan> <tspan x="336" textLength="56.7" lengthAdjust="spacingAndGlyphs" fill="#22ab94">93,658.48</tspan> <tspan x="397.8" textLength="12.2" lengthAdjust="spacingAndGlyphs" font-weight="bold">H:</tspan> <tspan x="410.8" textLength="56.7" lengthAdjust="spacingAndGlyphs" fill="#22ab94">93,978.53</tspan> <tspan x="471.5" textLength="9.2" lengthAdjust="spacingAndGlyphs" font-weight="bold">L:</tspan> <tspan x="482.4" textLength="56.7" lengthAdjust="spacingAndGlyphs" fill="#22ab94">93,588.12</tspan> <tspan x="543.5" textLength="10.4" lengthAdjust="spacingAndGlyphs" font-weight="bold">C:</tspan> <tspan x="555.2" textLength="56.7" lengthAdjust="spacingAndGlyphs" fill="#22ab94">93,684.49</tspan></text>
<g transform="translate(5.9,906.7) scale(0.64)" fill="#d1d4dc"><path d="M14 22H7V11H0V4h14v18zM28 22h-8l7.5-18h8L28 22z"/><circle cx="20" cy="8" r="4"/></g>
<text x="33.3" y="921" font-size="15.6" fill="#d1d4dc" font-weight="bold" textLength="91.5" lengthAdjust="spacingAndGlyphs">TradingView</text>
</svg>
</body></html>
